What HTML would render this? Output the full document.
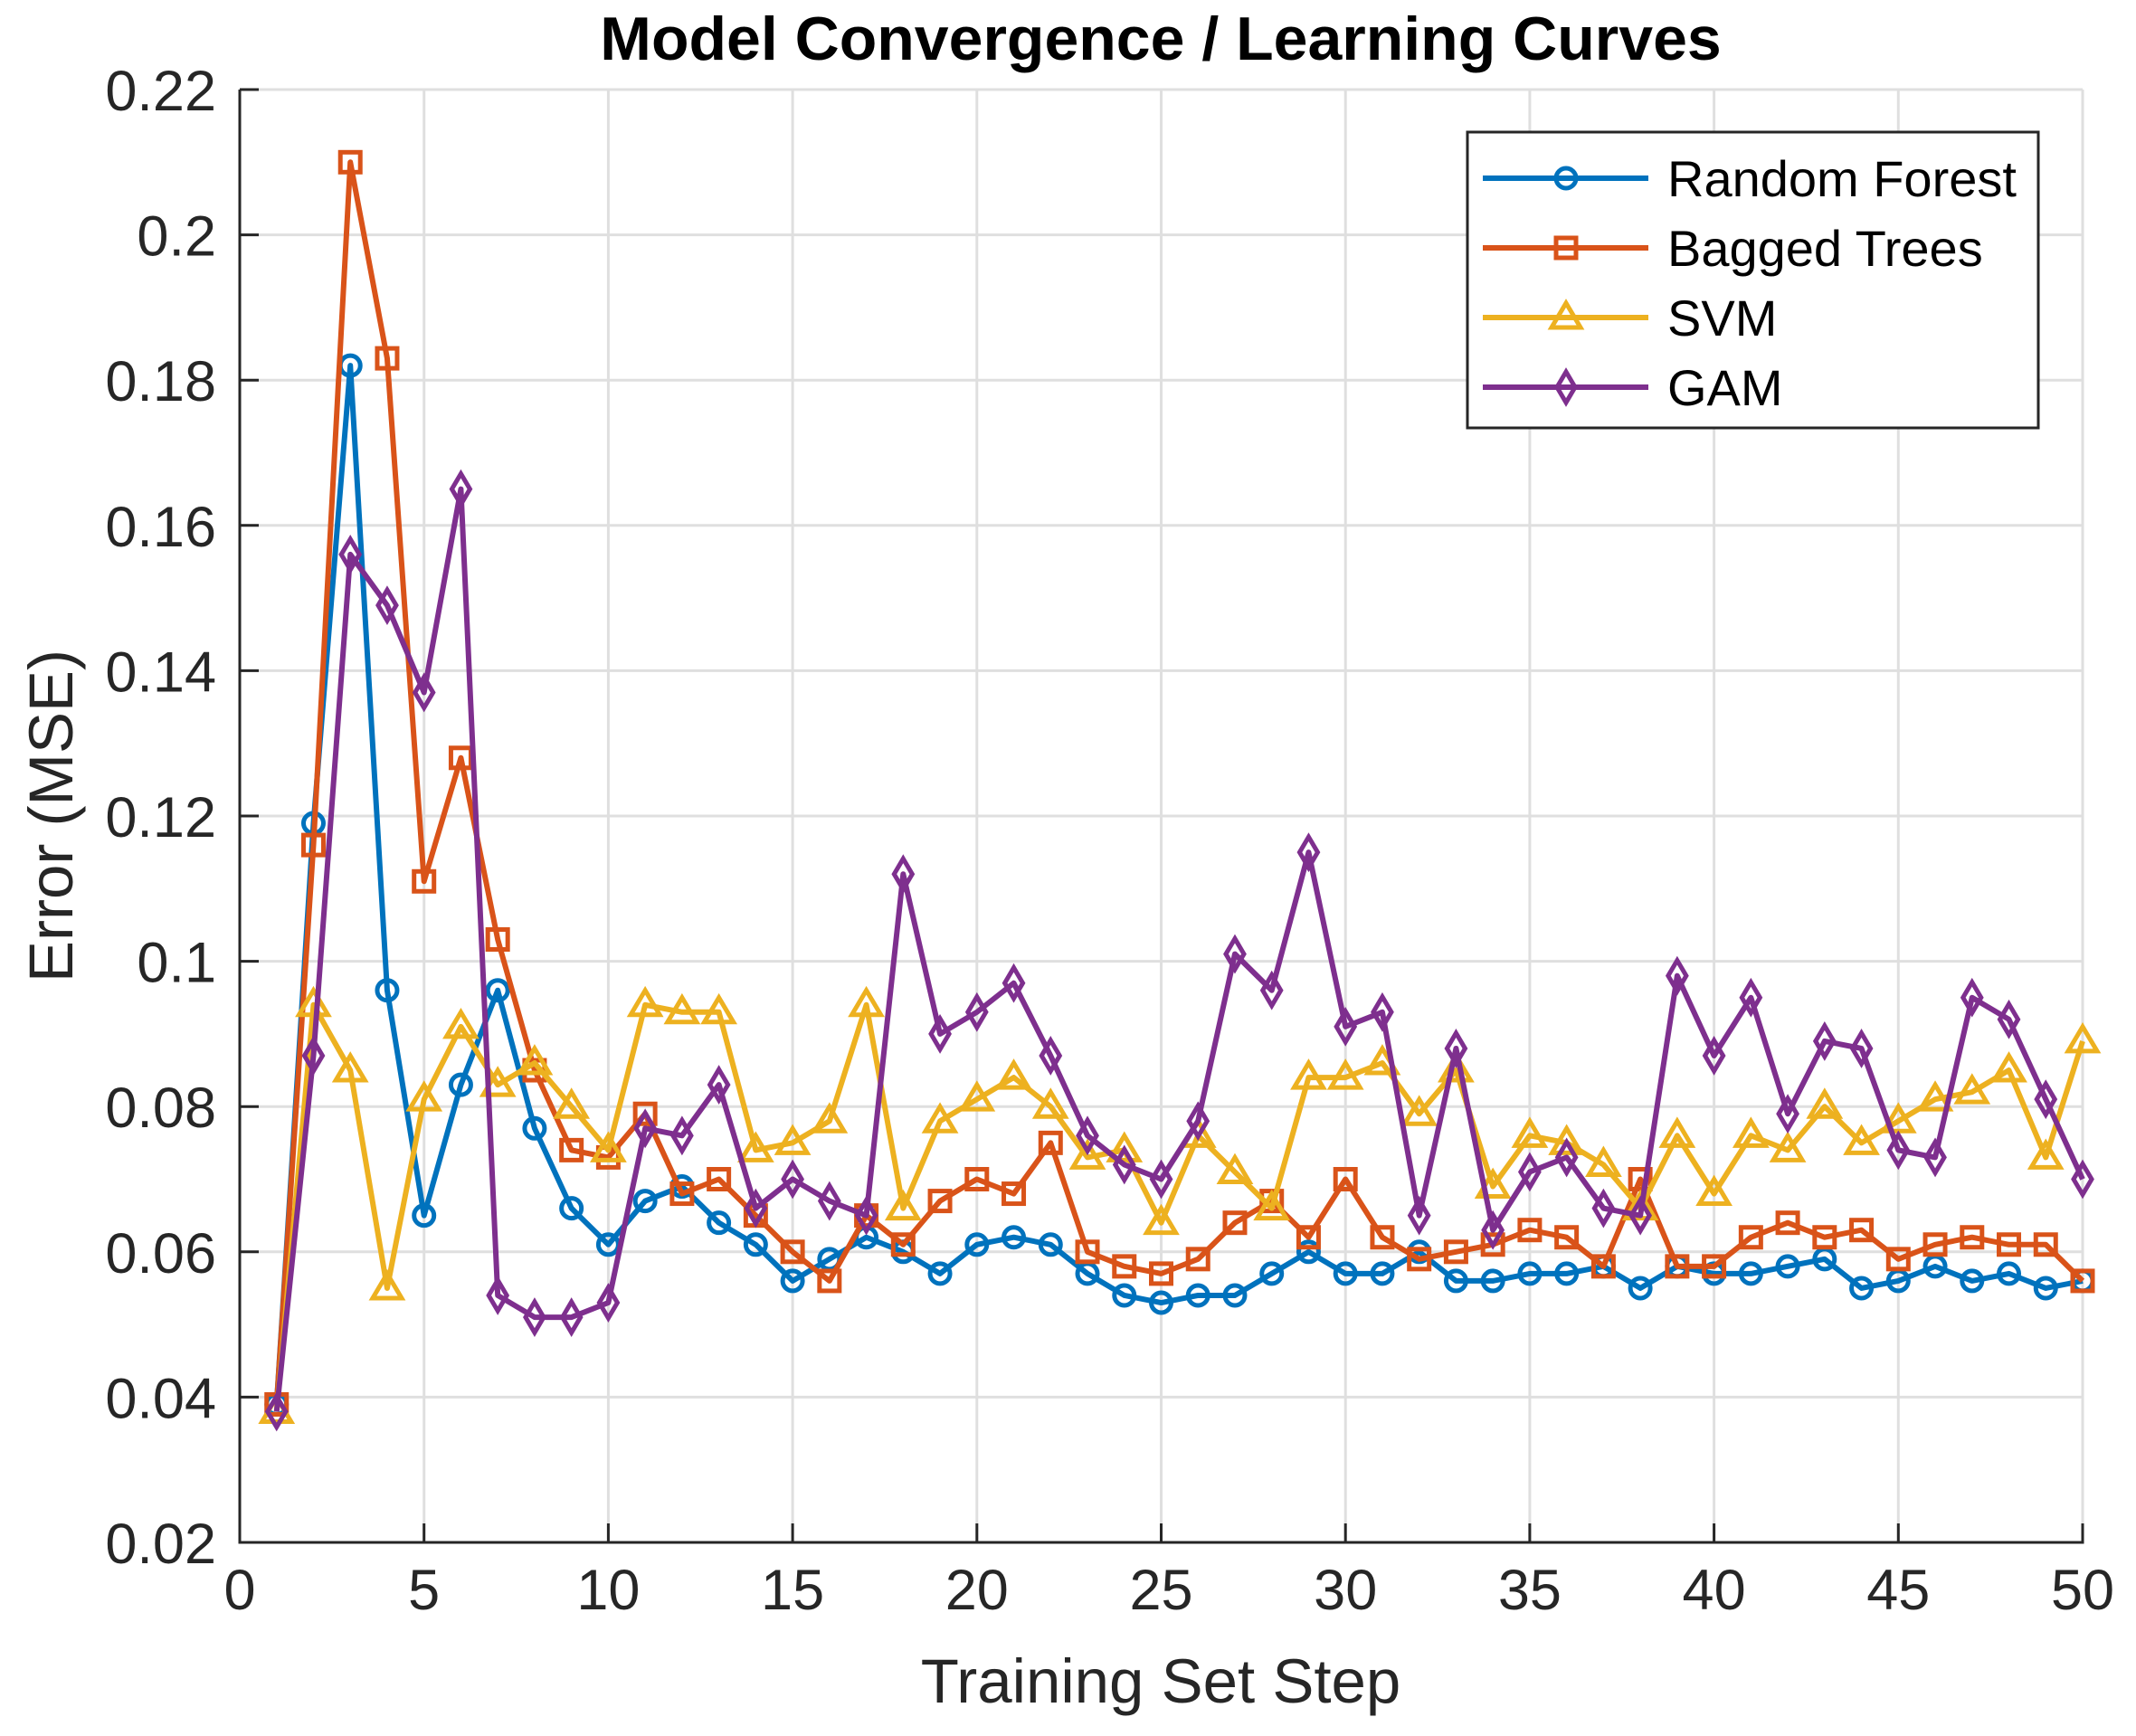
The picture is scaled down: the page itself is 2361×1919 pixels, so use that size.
<!DOCTYPE html>
<html><head><meta charset="utf-8"><style>
html,body{margin:0;padding:0;background:#fff;}
svg{display:block;font-family:"Liberation Sans",Arial,sans-serif;}
</style></head><body>
<svg id="chart" width="2361" height="1919" viewBox="0 0 2361 1919" xmlns="http://www.w3.org/2000/svg">
<rect width="2361" height="1919" fill="#fff"/>
<g id="grid"></g>
<g id="series"></g>
<g id="axes"></g>
<text x="1283" y="66" text-anchor="middle" font-size="68" font-weight="bold" fill="#000">Model Convergence / Learning Curves</text>
<text x="1283" y="1882" text-anchor="middle" font-size="69" fill="#262626">Training Set Step</text>
<text x="0" y="0" transform="translate(80,902) rotate(-90)" text-anchor="middle" font-size="69" fill="#262626">Error (MSE)</text>
<g id="legend"></g>
</svg>
<script>
const steps = Array.from({length:50},(_,i)=>i+1);
const rfValues = [0.039,0.119,0.182,0.096,0.065,0.083,0.096,0.077,0.066,0.061,0.067,0.069,0.064,0.061,0.056,0.059,0.062,0.060,0.057,0.061,0.062,0.061,0.057,0.054,0.053,0.054,0.054,0.057,0.060,0.057,0.057,0.060,0.056,0.056,0.057,0.057,0.058,0.055,0.058,0.057,0.057,0.058,0.059,0.055,0.056,0.058,0.056,0.057,0.055,0.056];
const btValues = [0.039,0.116,0.210,0.183,0.111,0.128,0.103,0.085,0.074,0.073,0.079,0.068,0.070,0.065,0.060,0.056,0.065,0.061,0.067,0.070,0.068,0.075,0.060,0.058,0.057,0.059,0.064,0.067,0.062,0.070,0.062,0.059,0.060,0.061,0.063,0.062,0.058,0.070,0.058,0.058,0.062,0.064,0.062,0.063,0.059,0.061,0.062,0.061,0.061,0.056];
const svmValues = [0.038,0.094,0.085,0.055,0.081,0.091,0.083,0.086,0.080,0.074,0.094,0.093,0.093,0.074,0.075,0.078,0.094,0.066,0.078,0.081,0.084,0.080,0.073,0.074,0.064,0.076,0.071,0.066,0.084,0.084,0.086,0.079,0.085,0.069,0.076,0.075,0.072,0.066,0.076,0.068,0.076,0.074,0.080,0.075,0.078,0.081,0.082,0.085,0.073,0.089];
const gamValues = [0.038,0.087,0.156,0.149,0.137,0.165,0.054,0.051,0.051,0.053,0.077,0.076,0.083,0.066,0.070,0.067,0.065,0.112,0.090,0.093,0.097,0.087,0.076,0.072,0.070,0.078,0.101,0.096,0.115,0.091,0.093,0.065,0.088,0.063,0.071,0.073,0.066,0.065,0.098,0.087,0.095,0.079,0.089,0.088,0.074,0.073,0.095,0.092,0.081,0.070];
const xTicks = [0,5,10,15,20,25,30,35,40,45,50];
const yTicks = [0.02,0.04,0.06,0.08,0.1,0.12,0.14,0.16,0.18,0.2,0.22];
const yTickLabels = ["0.02","0.04","0.06","0.08","0.1","0.12","0.14","0.16","0.18","0.2","0.22"];
const seriesNames = ["Random Forest","Bagged Trees","SVM","GAM"];

const L=265,R=2302,T=99,B=1705;
const xS=v=>L+(v-0)/(50-0)*(R-L);
const yS=v=>B-(v-0.02)/(0.22-0.02)*(B-T);
const NS="http://www.w3.org/2000/svg";
function mk(tag,attrs,parent){const e=document.createElementNS(NS,tag);for(const k in attrs)e.setAttribute(k,attrs[k]);parent.appendChild(e);return e;}
const grid=document.getElementById('grid'),axes=document.getElementById('axes'),ser=document.getElementById('series'),leg=document.getElementById('legend');
xTicks.forEach(t=>{
  const g=mk('line',{x1:xS(t),x2:xS(t),y1:T,y2:B,stroke:'#dfdfdf','stroke-width':3},grid);
  
  
  const tk=mk('line',{x1:xS(t),x2:xS(t),y1:B,y2:B-21,stroke:'#262626','stroke-width':3},axes);
  
  
  const lb=mk('text',{x:xS(t),y:B+74,'text-anchor':'middle','font-size':63,fill:'#262626'},axes);
  lb.textContent=t;
  
  
});
yTicks.forEach((t,i)=>{
  const g=mk('line',{x1:L,x2:R,y1:yS(t),y2:yS(t),stroke:'#dfdfdf','stroke-width':3},grid);
  
  
  const tk=mk('line',{x1:L,x2:L+21,y1:yS(t),y2:yS(t),stroke:'#262626','stroke-width':3},axes);
  
  
  const lb=mk('text',{x:L-26,y:yS(t)+23,'text-anchor':'end','font-size':63,fill:'#262626'},axes);
  lb.textContent=yTickLabels[i];
  
  
});
const xa=mk('line',{x1:L,x2:R+1.5,y1:B,y2:B,stroke:'#262626','stroke-width':3},axes);


const ya=mk('line',{x1:L,x2:L,y1:T,y2:B+1.5,stroke:'#262626','stroke-width':3},axes);



function marker(type,cx,cy,color,parent){
  const r=11;let e;
  if(type==='circle')e=mk('circle',{cx,cy,r,fill:'none',stroke:color,'stroke-width':5},parent);
  else if(type==='square')e=mk('rect',{x:cx-r,y:cy-r,width:2*r,height:2*r,fill:'none',stroke:color,'stroke-width':5},parent);
  else if(type==='triangle')e=mk('polygon',{points:`${cx},${cy-16} ${cx+16},${cy+11} ${cx-16},${cy+11}`,fill:'none',stroke:color,'stroke-width':5},parent);
  else e=mk('polygon',{points:`${cx},${cy-17} ${cx+10},${cy} ${cx},${cy+17} ${cx-10},${cy}`,fill:'none',stroke:color,'stroke-width':5},parent);
  return e;
}
const cfg=[[rfValues,'#0072BD','circle','random-forest'],[btValues,'#D95319','square','bagged-trees'],[svmValues,'#EDB120','triangle','svm'],[gamValues,'#7E2F8E','diamond','gam']];
cfg.forEach(([vals,color,m,name])=>{
  const g=mk('g',{},ser);
  
  
  const p=mk('polyline',{points:vals.map((v,i)=>xS(steps[i])+','+yS(v)).join(' '),fill:'none',stroke:color,'stroke-width':6,'stroke-linejoin':'round'},g);
  
  
  vals.forEach((v,i)=>{
    const mm=marker(m,xS(steps[i]),yS(v),color,g);
    
    
  });
});
const box=mk('rect',{x:1622,y:146,width:631,height:327,fill:'#fff',stroke:'#262626','stroke-width':3},leg);


cfg.forEach(([vals,color,m,name],i)=>{
  const y=197+i*77;
  const g=mk('g',{},leg);
  
  
  mk('line',{x1:1639,x2:1822,y1:y,y2:y,stroke:color,'stroke-width':6},g);
  marker(m,1731,y,color,g);
  const t=mk('text',{x:1843,y:y+20,'font-size':56,fill:'#000'},g);
  t.textContent=seriesNames[i];
});
</script>
</body></html>
